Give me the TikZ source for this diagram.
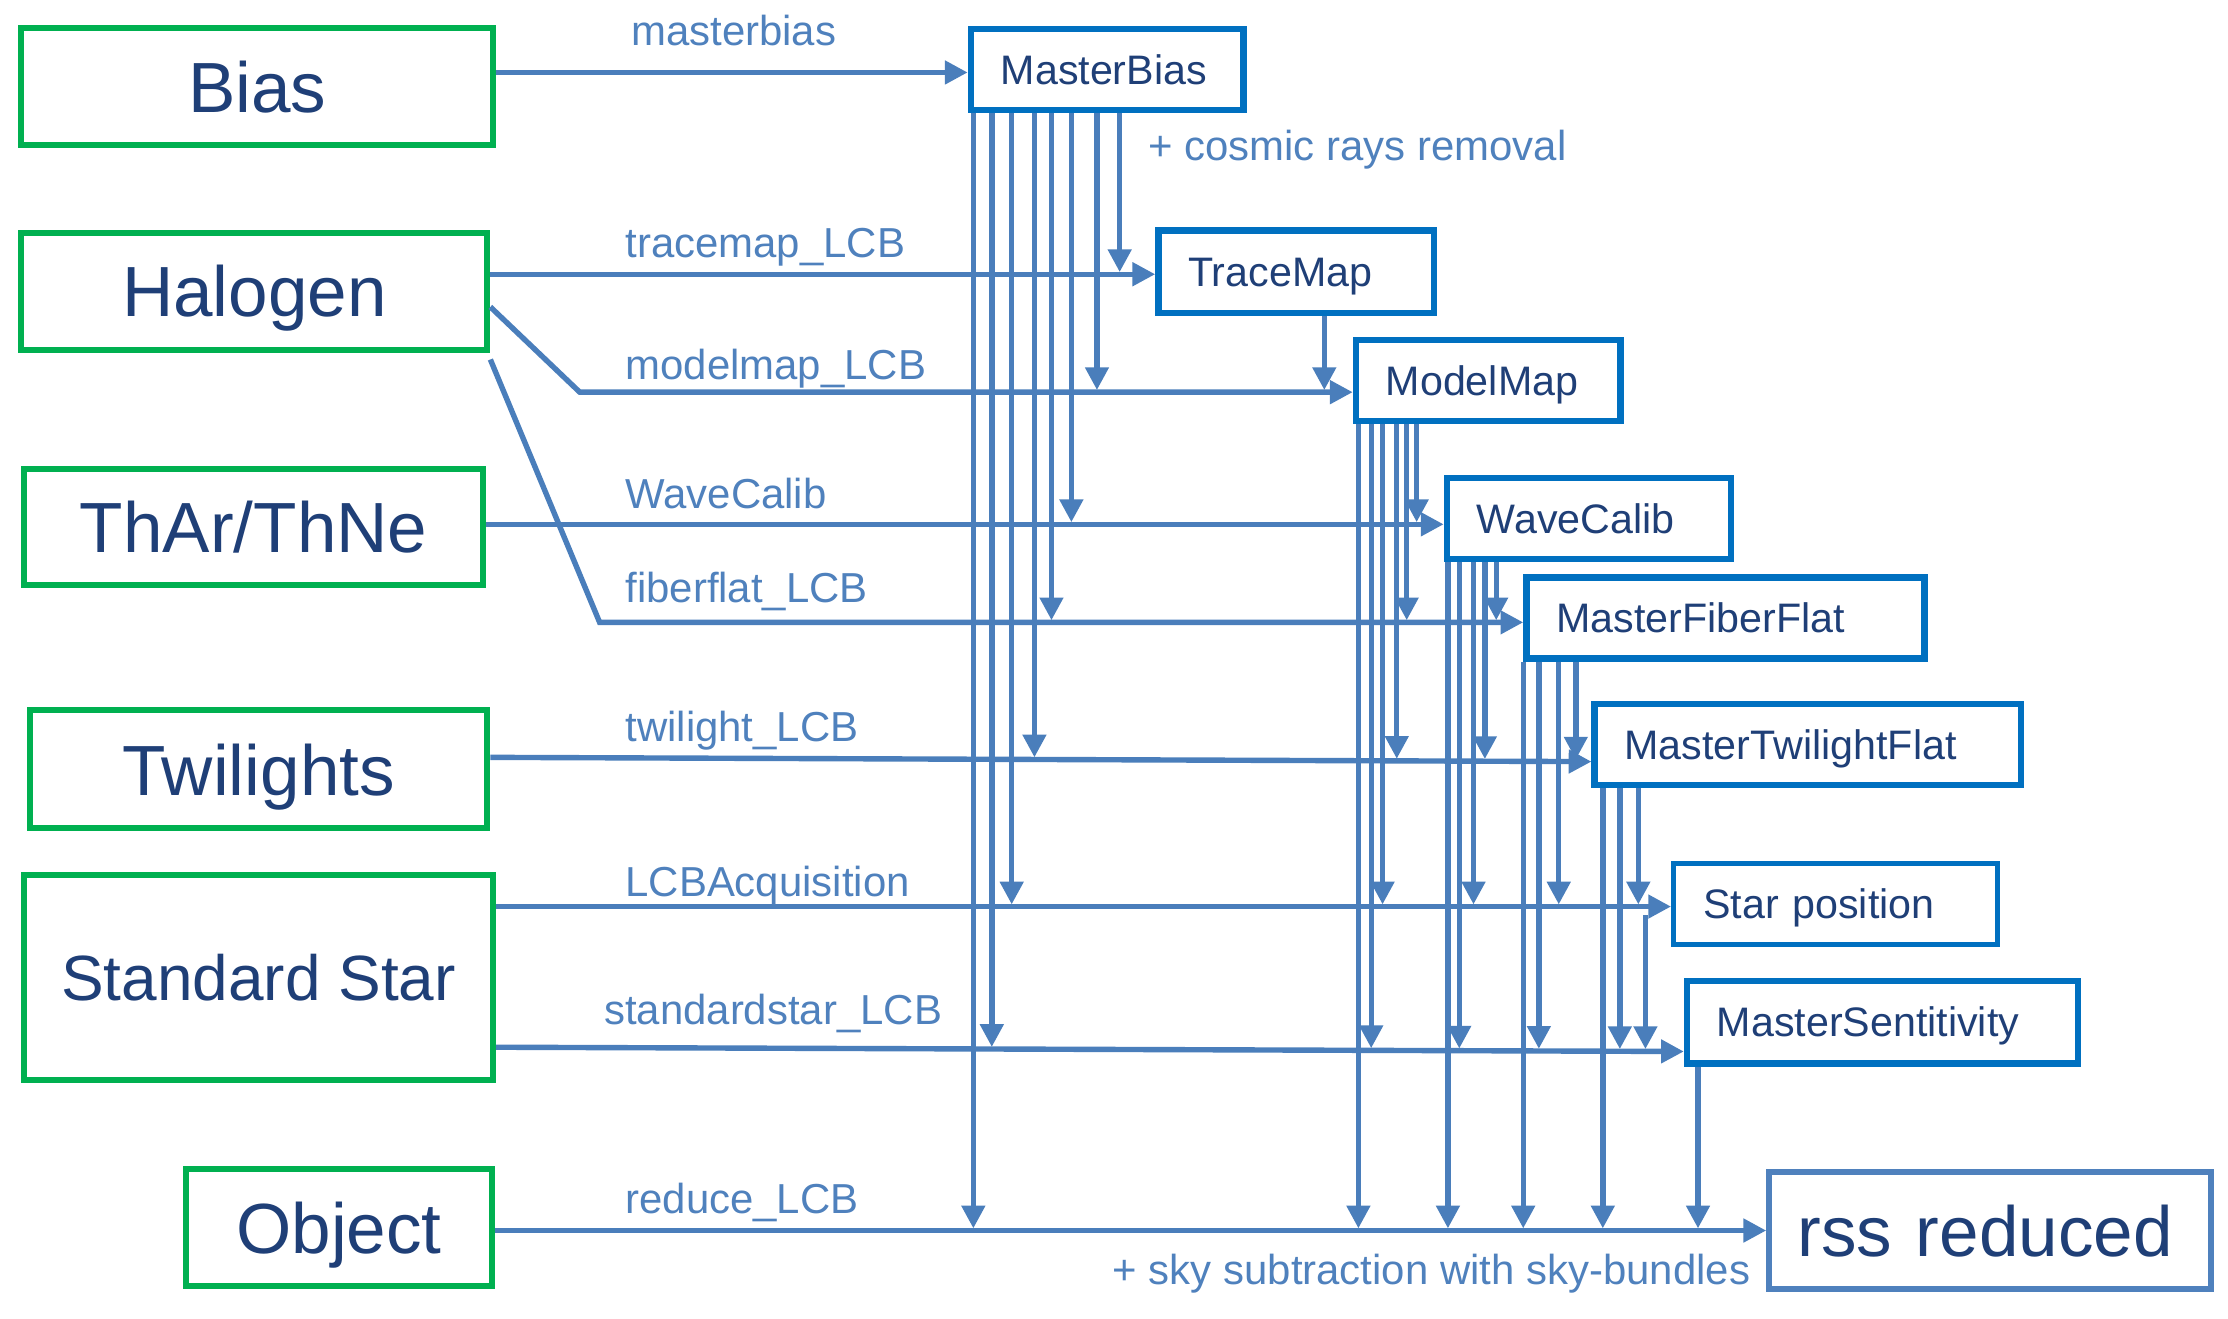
\documentclass[tikz,border=0pt]{standalone}
\usepackage{fontspec}
\setmainfont{Liberation Sans}
\usetikzlibrary{arrows.meta}
\definecolor{gr}{HTML}{00B050}
\definecolor{bl}{HTML}{0070C0}
\definecolor{ln}{HTML}{4A7EBB}
\definecolor{lb}{HTML}{4F81BD}
\definecolor{tx}{HTML}{1F3F77}
\begin{document}
\begin{tikzpicture}[x=1pt,y=-1pt,
  gbox/.style={draw=gr, line width=4.2pt, inner sep=0pt, text=tx, text height=36pt, text depth=0pt, font=\fontsize{50}{60}\selectfont},
  bbox/.style={draw=bl, line width=4.6pt, inner xsep=21pt, inner ysep=0pt, align=left, anchor=north west, text=tx, text height=21pt, text depth=0pt, font=\fontsize{29}{35}\selectfont},
  lab/.style={text=lb, font=\fontsize{29.5}{35}\selectfont, inner sep=0pt, anchor=base west},
  conn/.style={draw=ln, line width=3.8pt, -{Triangle[length=16pt,width=16pt]}}]
\useasboundingbox[fill=white] (0,0) rectangle (1568,928);

% source boxes
\node[gbox, minimum width=332pt, minimum height=82pt] (bias) at (181,61) {Bias};
\node[gbox, minimum width=328pt, minimum height=82pt] (halo) at (179,205) {Halogen};
\node[gbox, minimum width=323pt, minimum height=82pt] (thar) at (178.5,371) {ThAr/ThNe};
\node[gbox, minimum width=322pt, minimum height=83pt] (twil) at (182,541.5) {Twilights};
\node[gbox, minimum width=330pt, minimum height=144pt, text height=32pt, font=\fontsize{45}{54}\selectfont] (std) at (182,688) {Standard Star};
\node[gbox, minimum width=215pt, minimum height=82pt] (obj) at (238.5,864) {Object};

% product boxes
\node[bbox, text width=150pt, minimum height=57pt] (mbias) at (681,18) {MasterBias};
\node[bbox, text width=152pt, minimum height=58pt] (tmap) at (813,160) {TraceMap};
\node[bbox, text width=144pt, minimum height=57pt] (mmap) at (952,237) {ModelMap};
\node[bbox, text width=158pt, minimum height=57pt] (wcal) at (1016,334) {WaveCalib};
\node[bbox, text width=238pt, minimum height=57pt] (mff) at (1072,404) {MasterFiberFlat};
\node[bbox, text width=258pt, minimum height=57pt] (mtf) at (1120,493) {MasterTwilightFlat};
\node[bbox, line width=3.4pt, text width=186pt, minimum height=57pt] (spos) at (1176,606) {Star position};
\node[bbox, text width=233pt, minimum height=58pt] (msens) at (1185,688) {MasterSentitivity};
\node[bbox, draw=lb, line width=4.2pt, inner xsep=20pt, text width=271pt, minimum height=82pt, text height=36pt, font=\fontsize{50}{60}\selectfont] (rss) at (1243,823) {rss reduced};

% horizontal connectors
\draw[conn] (bias.east |- 0,51) -- (mbias.west |- 0,51);
\draw[conn] (halo.east |- 0,193) -- (tmap.west |- 0,193);
\draw[conn] (halo.east |- 0,216) -- (408,276) -- (mmap.west |- 0,276);
\draw[conn] (thar.east |- 0,369) -- (wcal.west |- 0,369);
\draw[conn] (halo.east |- 0,253) -- (422,438) -- (mff.west |- 0,438);
\draw[conn] (twil.east |- 0,533) -- (mtf.west |- 0,536);
\draw[conn] (std.east |- 0,638) -- (spos.west |- 0,638);
\draw[conn] (std.east |- 0,737) -- (msens.west |- 0,740);
\draw[conn] (obj.east |- 0,866) -- (rss.west |- 0,866);

% vertical connectors
\foreach \x/\y in {788/193, 772/276, 754/369, 740/438, 728/534.5, 712/638, 698/738.3, 685/866}
  \draw[conn] (mbias.south -| \x,0) -- (\x,\y-1.5);
\draw[conn] (tmap.south -| 932,0) -- (932,274.5);
\foreach \x/\y in {997/369, 990/438, 983/535.5, 973/638, 965/739.2, 956/866}
  \draw[conn] (mmap.south -| \x,0) -- (\x,\y-1.5);
\foreach \x/\y in {1053/438, 1045/535.7, 1037/638, 1027/739.4, 1019/866}
  \draw[conn] (wcal.south -| \x,0) -- (\x,\y-1.5);
\foreach \x/\y in {1109/536, 1097/638, 1083/739.6, 1072/866}
  \draw[conn] (mff.south -| \x,0) -- (\x,\y-1.5);
\foreach \x/\y in {1153/638, 1140/739.8, 1128/866}
  \draw[conn] (mtf.south -| \x,0) -- (\x,\y-1.5);
\coordinate (sposout) at (1158,644);
\draw[conn] (sposout) -- (1158,738.3);
\draw[conn] (msens.south -| 1195,0) -- (1195,864.5);

% labels
\node[lab] (l1) at (444,32) {masterbias};
\node[lab] (l2) at (440,181) {tracemap\_LCB};
\node[lab] (l3) at (440,267) {modelmap\_LCB};
\node[lab] (l4) at (440,358) {WaveCalib};
\node[lab] (l5) at (440,424) {fiberflat\_LCB};
\node[lab] (l6) at (440,522) {twilight\_LCB};
\node[lab] (l7) at (440,631) {LCBAcquisition};
\node[lab] (l8) at (425,721) {standardstar\_LCB};
\node[lab] (l9) at (440,854) {reduce\_LCB};
\node[lab] (l10) at (808,113) {+ cosmic rays removal};
\node[lab] (l11) at (783,904) {+ sky subtraction with sky-bundles};
\end{tikzpicture}
\end{document}
